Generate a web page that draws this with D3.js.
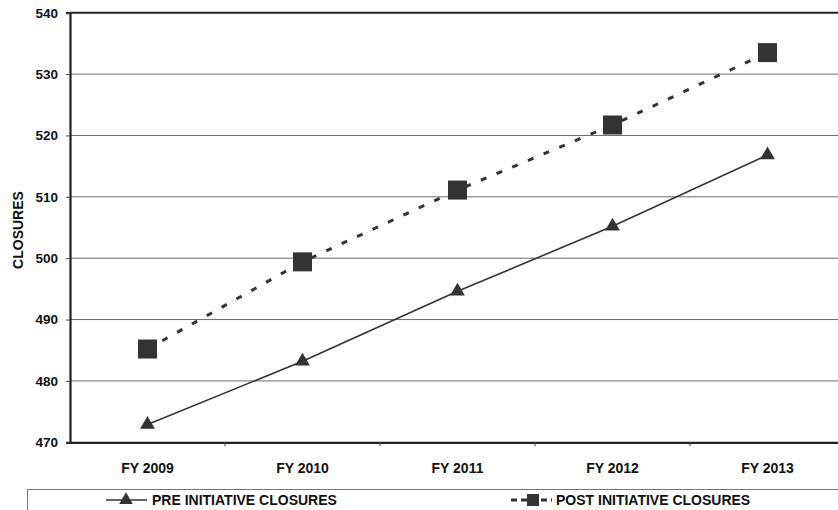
<!DOCTYPE html>
<html>
<head>
<meta charset="utf-8">
<script src="https://cdn.jsdelivr.net/npm/d3@7"></script>
<style>
  html, body { margin: 0; padding: 0; background: #fff; }
  svg { display: block; }
  text { font-family: "Liberation Sans", Arial, sans-serif; font-weight: bold; fill: #111; }
</style>
</head>
<body>
<svg id="chart" width="838" height="510"></svg>
<script>
// Fiscal years on the category axis
const years = ["FY 2009", "FY 2010", "FY 2011", "FY 2012", "FY 2013"];
// Projected closures before and after the initiative
const preClosures = [472.9, 483.2, 494.6, 505.2, 516.8];
const postClosures = [485.2, 499.4, 511.1, 521.7, 533.5];
// Value axis ticks
const yTicks = [470, 480, 490, 500, 510, 520, 530, 540];
const seriesNames = ["PRE INITIATIVE CLOSURES", "POST INITIATIVE CLOSURES"];

const svg = d3.select("#chart");
const W = 838, H = 510;
const plot = { left: 70, right: 845, top: 12.7, bottom: 442.3 };

const x = d3.scaleBand().domain(years).range([plot.left, plot.right]);
const y = d3.scaleLinear().domain([470, 540]).range([plot.bottom, plot.top]);
const cx = d => x(d) + x.bandwidth() / 2;

// Horizontal gridlines
svg.append("g")
  .selectAll("line")
  .data(yTicks.slice(1, -1))
  .join("line")
  .attr("x1", plot.left).attr("x2", W)
  .attr("y1", d => y(d)).attr("y2", d => y(d))
  .attr("stroke", "#6a6a6a").attr("stroke-width", 1);

// Top frame line
svg.append("line")
  .attr("x1", plot.left).attr("x2", W)
  .attr("y1", plot.top).attr("y2", plot.top)
  .attr("stroke", "#222").attr("stroke-width", 2);

// Y axis
const yAxis = svg.append("g")
  .attr("transform", `translate(${plot.left},0)`)
  .call(d3.axisLeft(y).tickValues(yTicks).tickSize(4).tickPadding(8).tickFormat(d3.format("d")));
yAxis.select(".domain").attr("stroke", "#222").attr("stroke-width", 2.2);
yAxis.selectAll(".tick line").attr("stroke", "#444").attr("stroke-width", 1);
yAxis.selectAll("text").style("font-size", "13.5px").attr("fill", "#111");

// X axis with ticks on category boundaries
const xAxis = svg.append("g")
  .attr("transform", `translate(0,${plot.bottom})`)
  .call(d3.axisBottom(x).tickSize(0).tickPadding(21));
xAxis.select(".domain").attr("stroke", "#222").attr("stroke-width", 2.2);
xAxis.selectAll("text").style("font-size", "14px").attr("fill", "#111");
svg.append("g")
  .selectAll("line")
  .data(years.slice(1))
  .join("line")
  .attr("x1", d => x(d)).attr("x2", d => x(d))
  .attr("y1", plot.bottom).attr("y2", plot.bottom + 4)
  .attr("stroke", "#444").attr("stroke-width", 1);

// Y axis title
svg.append("text")
  .attr("transform", "translate(23,230) rotate(-90)")
  .attr("text-anchor", "middle")
  .style("font-size", "14px")
  .text("CLOSURES");

const line = d3.line().x((d, i) => cx(years[i])).y(d => y(d));

// Pre-initiative: solid line with triangles
svg.append("path")
  .datum(preClosures)
  .attr("d", line)
  .attr("fill", "none").attr("stroke", "#333").attr("stroke-width", 1.6);

const tri = d3.symbol().type(d3.symbolTriangle).size(95);
svg.append("g")
  .selectAll("path")
  .data(preClosures)
  .join("path")
  .attr("d", tri)
  .attr("transform", (d, i) => `translate(${cx(years[i])},${y(d)})`)
  .attr("fill", "#333");

// Post-initiative: dashed line with squares
svg.append("path")
  .datum(postClosures)
  .attr("d", line)
  .attr("fill", "none").attr("stroke", "#333").attr("stroke-width", 3)
  .attr("stroke-dasharray", "6,11");

svg.append("g")
  .selectAll("rect")
  .data(postClosures)
  .join("rect")
  .attr("x", (d, i) => cx(years[i]) - 9.5)
  .attr("y", d => y(d) - 9.5)
  .attr("width", 19).attr("height", 19)
  .attr("fill", "#333");

// Legend
const legend = svg.append("g");
legend.append("rect")
  .attr("x", 27.5).attr("y", 489.5)
  .attr("width", 830).attr("height", 40)
  .attr("fill", "none").attr("stroke", "#777").attr("stroke-width", 1);

const legY = 500;
// pre item
legend.append("line")
  .attr("x1", 106).attr("x2", 147).attr("y1", legY).attr("y2", legY)
  .attr("stroke", "#333").attr("stroke-width", 1.6);
legend.append("path")
  .attr("d", d3.symbol().type(d3.symbolTriangle).size(80))
  .attr("transform", `translate(126,${legY})`)
  .attr("fill", "#333");
legend.append("text")
  .attr("x", 152).attr("y", legY + 5)
  .style("font-size", "14px")
  .text(seriesNames[0]);

// post item
legend.append("line")
  .attr("x1", 511).attr("x2", 552).attr("y1", legY).attr("y2", legY)
  .attr("stroke", "#333").attr("stroke-width", 3)
  .attr("stroke-dasharray", "6,4");
legend.append("rect")
  .attr("x", 527).attr("y", legY - 6).attr("width", 12).attr("height", 12)
  .attr("fill", "#333");
legend.append("text")
  .attr("x", 556).attr("y", legY + 5)
  .style("font-size", "14px")
  .text(seriesNames[1]);
</script>
</body>
</html>
